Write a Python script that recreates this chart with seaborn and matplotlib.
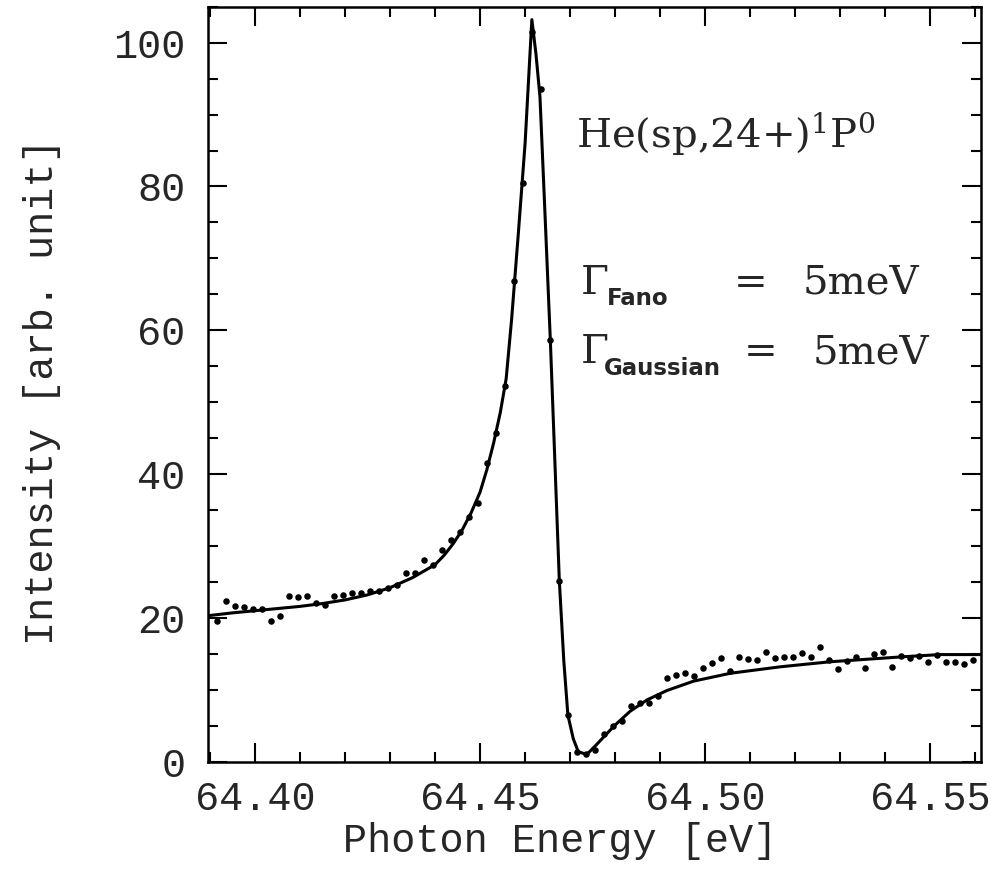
import matplotlib
matplotlib.use("Agg")
import matplotlib.pyplot as plt
import seaborn as sns
import pandas as pd
from matplotlib.ticker import MultipleLocator, FormatStrFormatter

# ---- data ----
energy_pts = [64.3915, 64.3935, 64.3955, 64.3975, 64.3995, 64.4015, 64.4035, 64.4055, 64.4075, 64.4095,
              64.4115, 64.4135, 64.4155, 64.4175, 64.4195, 64.4215, 64.4235, 64.4255, 64.4275, 64.4295,
              64.4315, 64.4335, 64.4355, 64.4375, 64.4395, 64.4415, 64.4435, 64.4455, 64.4475, 64.4495,
              64.4515, 64.4535, 64.4555, 64.4575, 64.4595, 64.4615, 64.4635, 64.4655, 64.4675, 64.4695,
              64.4715, 64.4735, 64.4755, 64.4775, 64.4795, 64.4815, 64.4835, 64.4855, 64.4875, 64.4895,
              64.4915, 64.4935, 64.4955, 64.4975, 64.4995, 64.5015, 64.5035, 64.5055, 64.5075, 64.5095,
              64.5115, 64.5135, 64.5155, 64.5175, 64.5195, 64.5215, 64.5235, 64.5255, 64.5275, 64.5295,
              64.5315, 64.5335, 64.5355, 64.5375, 64.5395, 64.5415, 64.5435, 64.5455, 64.5475, 64.5495,
              64.5515, 64.5535, 64.5555, 64.5575, 64.5595]
intensity_pts = [19.5, 22.4, 21.6, 21.5, 21.2, 21.2, 19.6, 20.3, 23.0, 22.9,
                 23.1, 22.1, 21.8, 23.1, 23.2, 23.5, 23.5, 23.7, 23.8, 24.1,
                 24.6, 26.2, 26.2, 28.0, 27.3, 29.5, 30.9, 31.9, 34.0, 36.0,
                 41.5, 45.7, 52.2, 66.8, 80.5, 101.5, 93.5, 58.7, 25.2, 6.5,
                 1.4, 1.1, 1.6, 3.9, 5.0, 5.7, 7.7, 8.1, 8.2, 9.1,
                 11.6, 12.0, 12.3, 11.9, 13.0, 13.7, 14.4, 12.6, 14.5, 14.3,
                 14.2, 15.2, 14.4, 14.5, 14.5, 15.1, 14.6, 16.0, 14.1, 12.9,
                 14.0, 14.5, 13.0, 15.0, 15.2, 13.2, 14.7, 14.4, 14.7, 13.9,
                 14.9, 13.9, 13.8, 13.6, 14.2]

energy_fit = [64.3895, 64.3950, 64.4000, 64.4050, 64.4100, 64.4150, 64.4200, 64.4250, 64.4300, 64.4350,
              64.4400, 64.4420, 64.4440, 64.4460, 64.4480, 64.4500, 64.4515, 64.4530, 64.4545, 64.4558,
              64.4570, 64.4585, 64.4600, 64.4615, 64.4624, 64.4633, 64.4645, 64.4656, 64.4666, 64.4676,
              64.4686, 64.4695, 64.4707, 64.4718, 64.4737, 64.4759, 64.4780, 64.4800, 64.4833, 64.4871,
              64.4915, 64.4974, 64.5056, 64.5167, 64.5278, 64.5441, 64.5522, 64.5612]
intensity_fit = [20.3, 20.7, 21.0, 21.3, 21.6, 22.0, 22.5, 23.2, 24.2, 25.6,
                 27.4, 28.7, 30.3, 32.2, 34.6, 37.5, 40.6, 44.3, 48.6, 53.3,
                 61.5, 73.5, 86.0, 103.2, 98.5, 92.5, 75.0, 58.7, 42.0, 25.2,
                 14.0, 6.5, 3.2, 1.4, 1.0, 2.4, 3.8, 5.1, 7.0, 8.6,
                 9.9, 11.2, 12.3, 13.2, 13.9, 14.6, 14.9, 14.9]

x_major_ticks = [64.40, 64.45, 64.50, 64.55]
y_major_ticks = [0, 20, 40, 60, 80, 100]

sns.set_style("ticks")
plt.rcParams['font.family'] = ['Liberation Mono', 'DejaVu Sans']
plt.rcParams['mathtext.fontset'] = 'dejavuserif'

fig = plt.figure(figsize=(9.91, 8.81), dpi=100)
ax = fig.add_axes([0.2096, 0.1354, 0.7800, 0.8570])

pts = pd.DataFrame({"E": energy_pts, "I": intensity_pts})
fit = pd.DataFrame({"E": energy_fit, "I": intensity_fit})

sns.lineplot(data=fit, x="E", y="I", ax=ax, color="black", linewidth=2.2, sort=False)
sns.scatterplot(data=pts, x="E", y="I", ax=ax, color="black", s=22, linewidth=0, zorder=3)

ax.set_xlim(64.3895, 64.5612)
ax.set_ylim(0, 105)
ax.set_xticks(x_major_ticks)
ax.set_yticks(y_major_ticks)
ax.xaxis.set_minor_locator(MultipleLocator(0.01))
ax.yaxis.set_minor_locator(MultipleLocator(5))
ax.xaxis.set_major_formatter(FormatStrFormatter('%.2f'))

for s in ax.spines.values():
    s.set_linewidth(1.8)
    s.set_color("black")
ax.tick_params(which='both', direction='in', top=True, right=True, color='black')
ax.tick_params(which='major', length=14, width=1.5, labelsize=29)
ax.tick_params(axis='x', which='major', pad=13)
ax.tick_params(axis='y', which='major', pad=16)
ax.tick_params(which='minor', length=7, width=1.5)

ax.set_xlabel("Photon Energy [eV]", fontsize=29)
ax.set_ylabel("Intensity [arb. unit]", fontsize=29)
ax.xaxis.set_label_coords(0.456, -0.080)
ax.yaxis.set_label_coords(-0.19, 0.49)

serif = ['DejaVu Serif']
ax.text(0.477, 0.814, r"He(sp,24+)$^{\mathrm{1}}$P$^{\mathrm{0}}$", transform=ax.transAxes,
        fontsize=29, family=serif, va='baseline', ha='left')

ax.text(0.482, 0.620, "Γ", transform=ax.transAxes, fontsize=29, family=serif, va='baseline')
ax.text(0.516, 0.605, "Fano", transform=ax.transAxes, fontsize=16.5, family=['DejaVu Sans'],
        weight='bold', va='baseline')
ax.text(0.702, 0.620, "=", transform=ax.transAxes, fontsize=29, family=serif, va='baseline', ha='center')
ax.text(0.770, 0.620, "5meV", transform=ax.transAxes, fontsize=29, family=serif, va='baseline')

ax.text(0.482, 0.528, "Γ", transform=ax.transAxes, fontsize=29, family=serif, va='baseline')
ax.text(0.513, 0.512, "Gaussian", transform=ax.transAxes, fontsize=16.5, family=['DejaVu Sans'],
        weight='bold', va='baseline')
ax.text(0.715, 0.528, "=", transform=ax.transAxes, fontsize=29, family=serif, va='baseline', ha='center')
ax.text(0.783, 0.528, "5meV", transform=ax.transAxes, fontsize=29, family=serif, va='baseline')

fig.savefig("out.png", dpi=100)
